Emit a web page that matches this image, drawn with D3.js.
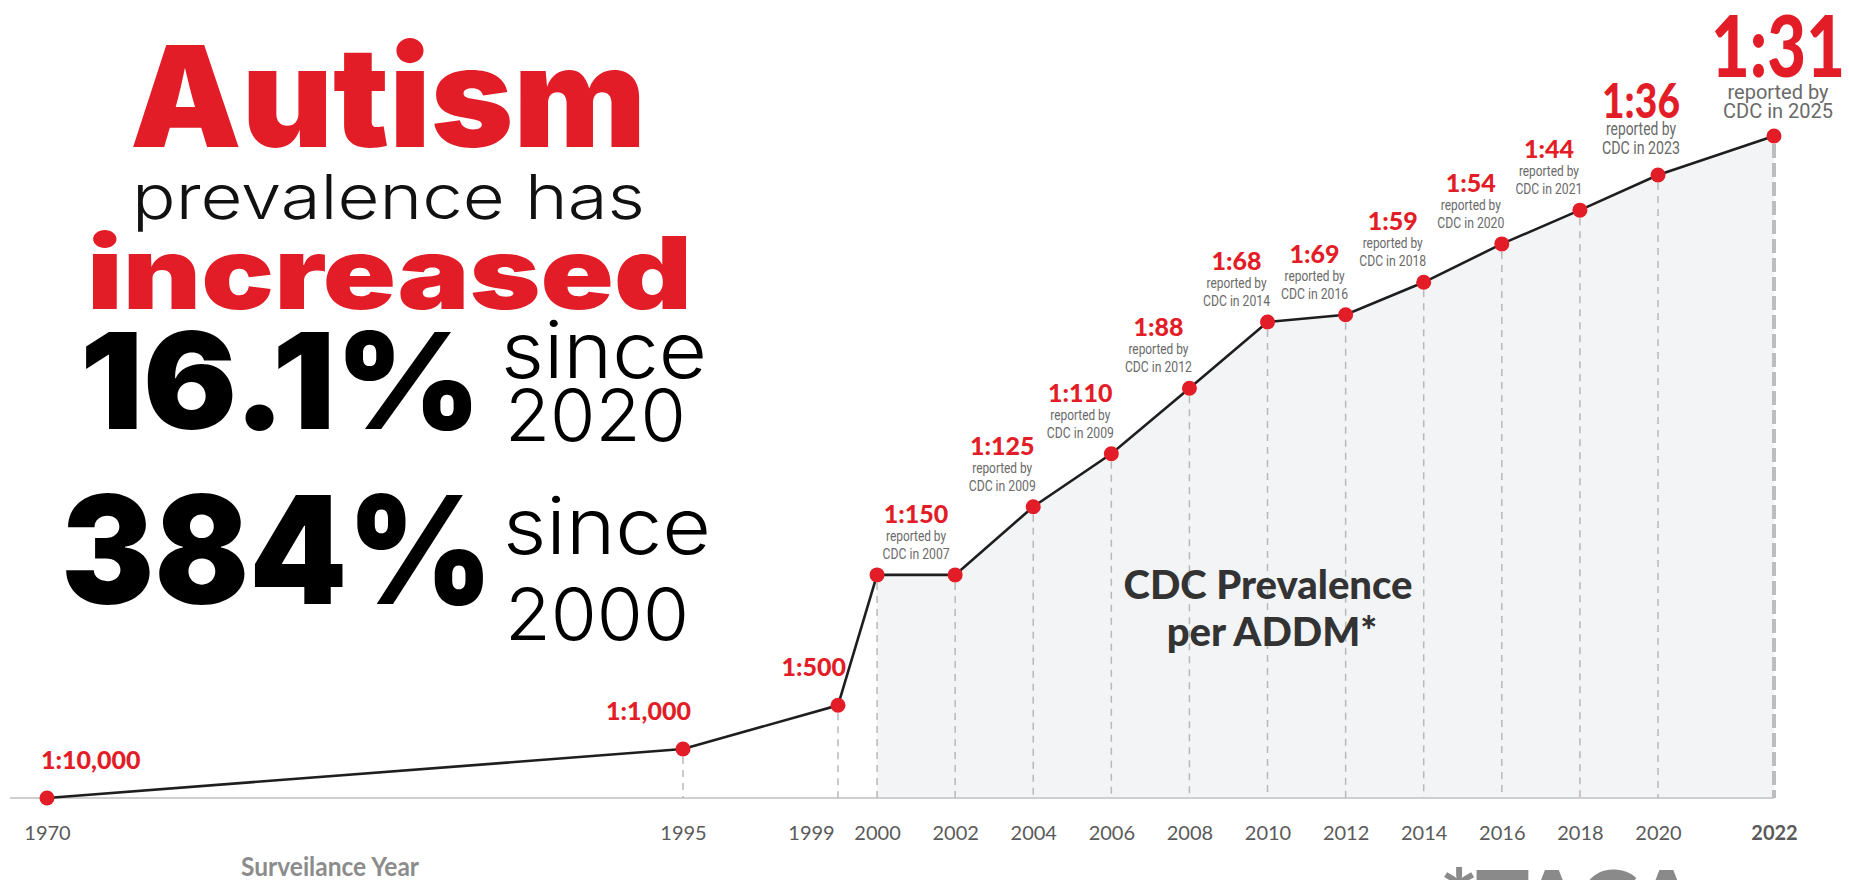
<!DOCTYPE html>
<html>
<head>
<meta charset="utf-8">
<title>Autism prevalence</title>
<style>
  body, html { margin: 0; padding: 0; background: #fff; }
  svg { display: block; }
</style>
</head>
<body>
<svg id="svg" width="1849" height="880"></svg>
<script src="https://d3js.org/d3.v7.min.js"></script>
<script>
// surveillance years and how high each point sits (0 = baseline, 100 = the 2022 point)
const years = [1970, 1995, 1999, 2000, 2002, 2004, 2006, 2008, 2010, 2012, 2014, 2016, 2018, 2020, 2022]
const levels = [0, 7.4, 14.0, 33.7, 33.7, 44.0, 52.0, 61.9, 71.9, 73.0, 77.9, 83.7, 88.8, 94.1, 100]

// ratio labels: text, the year they sit by, and when CDC reported them
const ratioLabels = ['1:10,000', '1:1,000', '1:500', '1:150', '1:125', '1:110', '1:88', '1:68', '1:69', '1:59', '1:54', '1:44', '1:36', '1:31']
const labelYears = [1970, 1995, 1999, 2001, 2004, 2006, 2008, 2010, 2012, 2014, 2016, 2018, 2020, 2022]
const reportedIn = [null, null, null, 2007, 2009, 2009, 2012, 2014, 2016, 2018, 2020, 2021, 2023, 2025]

const RED = '#e31d27'
const svg = d3.select('#svg')

// x is not even: 1970-1995 squeezed, 2000-2020 two-year steps
const x = d3.scaleLinear()
  .domain([1970, 1995, 1999, 2020, 2022])
  .range([47, 683, 838, 1658, 1774])
const y = d3.scaleLinear().domain([0, 100]).range([798, 136])
// height of the line at any year, used to place labels
const lineAt = d3.scaleLinear().domain(years).range(levels)

const pts = years.map((yr, i) => ({ year: yr, level: levels[i] }))

// shaded area from 2000 on
const area = d3.area()
  .x(d => x(d.year))
  .y0(y(0))
  .y1(d => y(d.level))
svg.append('path')
  .datum(pts.filter(d => d.year >= 2000))
  .attr('d', area)
  .attr('fill', '#f3f4f6')

// baseline
svg.append('line')
  .attr('x1', 10).attr('x2', x(2022))
  .attr('y1', y(0)).attr('y2', y(0))
  .attr('stroke', '#cfcfcf').attr('stroke-width', 2)

// dashed drop lines
svg.append('g')
  .selectAll('line')
  .data(pts.filter(d => d.year > 1970))
  .join('line')
  .attr('x1', d => x(d.year)).attr('x2', d => x(d.year))
  .attr('y1', d => y(d.level) + 8).attr('y2', y(0))
  .attr('stroke', d => d.year === 2022 ? '#bdbdbd' : '#b8b8b8')
  .attr('stroke-width', d => d.year === 2022 ? 4 : 1.5)
  .attr('stroke-dasharray', d => d.year === 2022 ? '14,5' : '7,6')

// the line
const line = d3.line().x(d => x(d.year)).y(d => y(d.level))
svg.append('path')
  .datum(pts)
  .attr('d', line)
  .attr('fill', 'none')
  .attr('stroke', '#1e1e1e')
  .attr('stroke-width', 2.6)

svg.append('g')
  .selectAll('circle')
  .data(pts)
  .join('circle')
  .attr('cx', d => x(d.year))
  .attr('cy', d => y(d.level))
  .attr('r', 7.5)
  .attr('fill', RED)

// x axis
const axis = d3.axisBottom(x)
  .tickValues(years)
  .tickFormat(d3.format('d'))
  .tickSize(0)
  .tickPadding(0)
const ax = svg.append('g')
  .attr('transform', `translate(0, ${y(0) + 28})`)
  .call(axis)
ax.select('.domain').remove()
ax.selectAll('text')
  .attr('font-family', 'Lato, "Open Sans", sans-serif')
  .attr('font-size', 20)
  .attr('font-weight', d => d === 2022 ? 700 : 400)
  .attr('fill', '#5a5a5a')
  .attr('dx', d => d === 1999 ? -27 : 0)

// ratio labels
const labels = ratioLabels.map((t, i) => ({ text: t, year: labelYears[i], rep: reportedIn[i], i }))
labels.forEach(d => {
  const px = x(d.year)
  const py = y(lineAt(d.year))
  const g = svg.append('g')
  if (d.i === 0) {
    g.append('text').attr('x', px - 6).attr('y', py - 29).attr('text-anchor', 'start')
      .attr('font-size', 25).text(d.text)
  } else if (d.i < 3) {
    g.append('text').attr('x', px + 8).attr('y', py - 29).attr('text-anchor', 'end')
      .attr('font-size', 25).text(d.text)
  } else if (d.i < 12) {
    const cx = d.year === 2001 ? px : px - 31
    g.append('text').attr('x', cx).attr('y', py - 52).attr('text-anchor', 'middle')
      .attr('font-size', 25).text(d.text)
    g.append('text').attr('class', 'sub').attr('x', cx).attr('y', py - 34)
      .attr('font-size', 15).attr('textLength', 60).text('reported by')
    g.append('text').attr('class', 'sub').attr('x', cx).attr('y', py - 16)
      .attr('font-size', 15).attr('textLength', 67).text('CDC in ' + d.rep)
  } else if (d.i === 12) {
    const cx = px - 17
    g.append('text').attr('x', cx).attr('y', py - 57).attr('text-anchor', 'middle')
      .attr('font-size', 48).attr('textLength', 78).attr('lengthAdjust', 'spacingAndGlyphs')
      .text(d.text)
    g.append('text').attr('class', 'sub').attr('x', cx).attr('y', py - 40)
      .attr('font-size', 18).attr('textLength', 70).text('reported by')
    g.append('text').attr('class', 'sub').attr('x', cx).attr('y', py - 21)
      .attr('font-size', 18).attr('textLength', 78).text('CDC in ' + d.rep)
  } else {
    const cx = px + 4
    g.append('text').attr('x', cx).attr('y', py - 59).attr('text-anchor', 'middle')
      .attr('font-size', 86).attr('textLength', 134).attr('lengthAdjust', 'spacingAndGlyphs')
      .text(d.text)
    g.append('text').attr('class', 'sub').attr('x', cx).attr('y', py - 37)
      .attr('font-size', 20).text('reported by')
    g.append('text').attr('class', 'sub').attr('x', cx).attr('y', py - 18)
      .attr('font-size', 20).text('CDC in ' + d.rep)
  }
  g.selectAll('text:not(.sub)')
    .attr('font-family', 'Lato, sans-serif')
    .attr('font-weight', 900)
    .attr('fill', RED)
  g.selectAll('text.sub')
    .attr('font-family', 'Roboto, sans-serif')
    .attr('text-anchor', 'middle')
    .attr('lengthAdjust', 'spacingAndGlyphs')
    .attr('fill', '#6a6a6a')
})

// text inside the shaded area
const note = svg.append('text')
  .attr('font-family', 'Lato, sans-serif')
  .attr('font-weight', 900)
  .attr('font-size', 40)
  .attr('fill', '#333')
  .attr('text-anchor', 'middle')
  .attr('lengthAdjust', 'spacingAndGlyphs')
note.append('tspan').attr('x', 1268).attr('y', 599).text('CDC Prevalence')
note.append('tspan').attr('x', 1272).attr('y', 646).text('per ADDM*')

svg.append('text')
  .attr('x', 330).attr('y', 876)
  .attr('text-anchor', 'middle')
  .attr('font-family', 'Lato, sans-serif')
  .attr('font-weight', 700)
  .attr('font-size', 27)
  .attr('fill', '#8c8c8c')
  .attr('textLength', 178)
  .attr('lengthAdjust', 'spacingAndGlyphs')
  .text('Surveilance Year')

// cut-off logo at the bottom edge
svg.append('text')
  .attr('x', 1440).attr('y', 935)
  .attr('font-family', 'Lato, sans-serif')
  .attr('font-weight', 900)
  .attr('font-size', 90)
  .attr('fill', '#8a8a8a')
  .attr('textLength', 258)
  .text('*TACA')

// headline on the left
const head = [
  { t: 'Autism', x: 130, y: 147, s: 140, w: 900, c: RED, len: 516 },
  { t: 'prevalence has', x: 132, y: 219, s: 62, w: 300, c: '#111', len: 513 },
  { t: 'increased', x: 87, y: 309, s: 100, w: 900, c: RED, len: 605 },
  { t: '16.1%', x: 80, y: 429, s: 134, w: 900, c: '#000', len: 401 },
  { t: 'since', x: 501, y: 378, s: 78, w: 300, c: '#000', len: 206 },
  { t: '2020', x: 505, y: 441, s: 72, w: 300, c: '#000', len: 181 },
  { t: '384%', x: 61, y: 604, s: 150, w: 900, c: '#000', len: 432 },
  { t: 'since', x: 503, y: 554, s: 78, w: 300, c: '#000', len: 208 },
  { t: '2000', x: 505, y: 640, s: 72, w: 300, c: '#000', len: 184 }
]
svg.append('g')
  .selectAll('text')
  .data(head)
  .join('text')
  .attr('x', d => d.x)
  .attr('y', d => d.y)
  .attr('font-family', 'Inter, "Open Sans", sans-serif')
  .attr('font-size', d => d.s)
  .attr('font-weight', d => d.w)
  .attr('fill', d => d.c)
  .attr('textLength', d => d.len)
  .attr('lengthAdjust', 'spacingAndGlyphs')
  .text(d => d.t)
</script>
</body>
</html>
